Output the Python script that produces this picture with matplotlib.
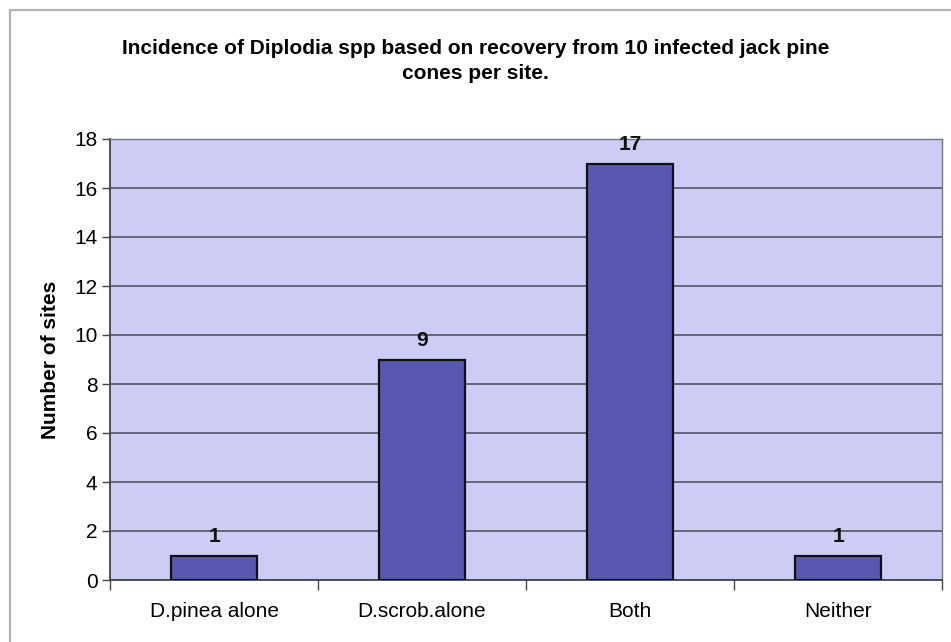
import matplotlib
matplotlib.use("Agg")
import matplotlib.pyplot as plt
from matplotlib.patches import Rectangle

categories = ["D.pinea alone", "D.scrob.alone", "Both", "Neither"]
sites = [1, 9, 17, 1]
yticks = [0, 2, 4, 6, 8, 10, 12, 14, 16, 18]

plt.rcParams["font.family"] = ["Liberation Sans", "DejaVu Sans"]

W, H = 951, 642
fig = plt.figure(figsize=(W / 100, H / 100), dpi=100)
fig.patch.set_facecolor("white")

# outer chart frame
fig.patches.append(Rectangle((10 / W, -0.01), 1.0, 1 - 10 / H + 0.01,
                             transform=fig.transFigure, fill=False,
                             edgecolor="#b4b4b4", linewidth=1.6))

ax = fig.add_axes([110 / W, 1 - 580 / H, (942 - 110) / W, (580 - 139) / H])
ax.set_facecolor("#ccccf4")

x = list(range(len(categories)))
bars = ax.bar(x, sites, width=0.41, color="#5858b2", edgecolor="#111111",
              linewidth=1.6, zorder=3)

for xi, v in zip(x, sites):
    ax.text(xi, v + 0.4, str(v), ha="center", va="bottom",
            fontsize=15, fontweight="bold", color="#111111", zorder=4)

ax.set_xlim(-0.5, len(categories) - 0.5)
ax.set_ylim(0, 18)
ax.set_yticks(yticks)
ax.yaxis.grid(True, color="#555566", linewidth=1.2, zorder=0)
ax.set_axisbelow(True)

ax.set_xticks([i + 0.5 for i in range(-1, len(categories))], minor=False)
ax.set_xticklabels([])
ax.set_xticks(x, minor=True)
ax.set_xticklabels(categories, minor=True)
ax.tick_params(axis="x", which="minor", length=0, pad=16, labelsize=15)
ax.tick_params(axis="x", which="major", length=7, width=1, color="#444444")
ax.tick_params(axis="y", length=6, width=1, color="#444444", labelsize=15,
               pad=3)

for side in ["left", "bottom"]:
    ax.spines[side].set_color("#444444")
    ax.spines[side].set_linewidth(1.3)
for side in ["top", "right"]:
    ax.spines[side].set_color("#777777")
    ax.spines[side].set_linewidth(1.0)

ax.set_ylabel("Number of sites", fontsize=15, fontweight="bold", labelpad=10)

fig.text(0.5, 1 - 61 / H,
         "Incidence of Diplodia spp based on recovery from 10 infected jack pine\ncones per site.",
         ha="center", va="center", fontsize=15, fontweight="bold",
         linespacing=1.4)

fig.savefig("out.png", dpi=100, facecolor="white")
